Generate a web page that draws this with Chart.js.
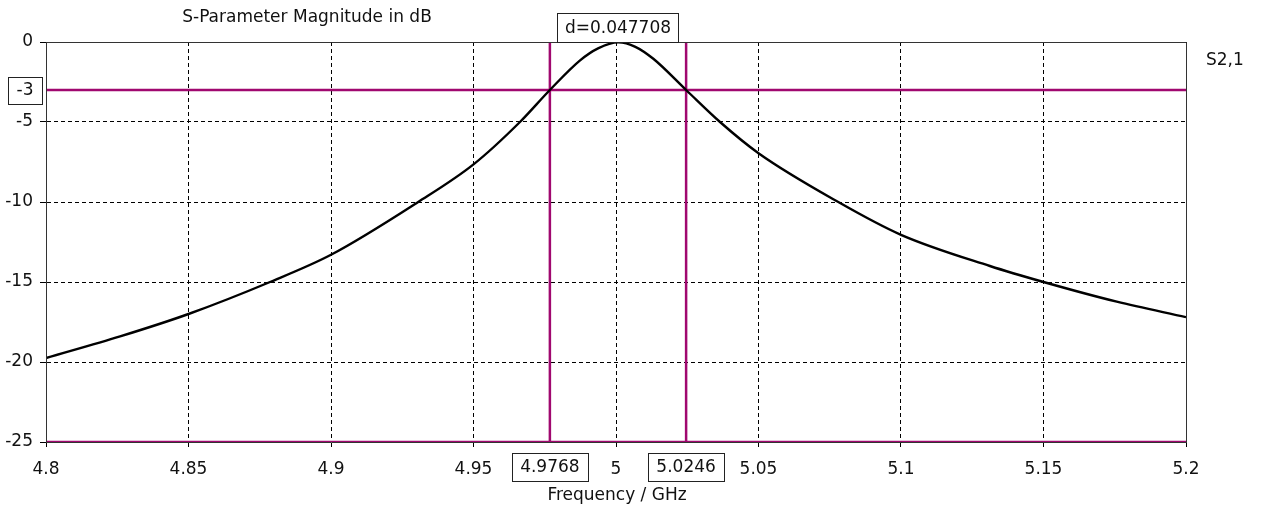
<!DOCTYPE html>
<html>
<head>
<meta charset="utf-8">
<script src="https://cdn.jsdelivr.net/npm/chart.js@4"></script>
<style>
  body { margin: 0; background: #fff; }
  #wrap { width: 1268px; height: 513px; }
</style>
</head>
<body>
<div id="wrap"><canvas id="myChart"></canvas></div>
<script>
// data
const freqGHz = [4.8, 4.826, 4.85, 4.8786, 4.9, 4.9306, 4.95, 4.9663, 4.9768, 4.9874, 4.9937, 5.0008,
                 5.0068, 5.0131, 5.0246, 5.0365, 5.05, 5.078, 5.1, 5.1312, 5.15, 5.1757, 5.2]
const s21dB = [-19.75, -18.4, -17.0, -15.0, -13.3, -10.0, -7.65, -5.0, -3.0, -1.15, -0.4, -0.02,
               -0.3, -1.05, -3.0, -5.0, -6.95, -10.0, -12.05, -14.0, -15.0, -16.23, -17.2]
const markerFreqs = [4.9768, 5.0246]
const markerLabels = ['4.9768', '5.0246']
const levelLine = -3
const floorLine = -25
const deltaLabel = 'd=0.047708'
const xRange = [4.8, 5.2]
const yRange = [-25, 0]

const magenta = '#a0086f'
const font = 'DejaVu Sans'
const fontSize = 17

const curve = freqGHz.map((f, i) => ({ x: f, y: s21dB[i] }))

const datasets = [{
    label: 'S2,1',
    data: curve,
    borderColor: '#000',
    borderWidth: 2.4,
    pointRadius: 0,
    cubicInterpolationMode: 'monotone',
    order: 0
}, {
    data: [{ x: xRange[0], y: levelLine }, { x: xRange[1], y: levelLine }],
    borderColor: magenta, borderWidth: 2.5, pointRadius: 0, order: 1
}, {
    data: [{ x: xRange[0], y: floorLine }, { x: xRange[1], y: floorLine }],
    borderColor: magenta, borderWidth: 2.5, pointRadius: 0, order: 1
}]
markerFreqs.forEach(f => {
    datasets.push({
        data: [{ x: f, y: yRange[0] }, { x: f, y: yRange[1] }],
        borderColor: magenta, borderWidth: 2.5, pointRadius: 0, order: 1
    })
})

function box(ctx, cx, cy, w, h, text) {
    ctx.fillStyle = '#fff'
    ctx.fillRect(cx - w / 2, cy - h / 2, w, h)
    ctx.strokeStyle = '#222'
    ctx.lineWidth = 1
    ctx.strokeRect(Math.round(cx - w / 2) + 0.5, Math.round(cy - h / 2) + 0.5, w, h)
    ctx.fillStyle = '#111'
    ctx.textAlign = 'center'
    ctx.textBaseline = 'middle'
    ctx.fillText(text, cx, cy + 1)
}

const annotations = {
    id: 'annotations',
    afterDraw(chart) {
        const ctx = chart.ctx
        const a = chart.chartArea
        const xs = chart.scales.x
        const ys = chart.scales.y
        ctx.save()
        // frame
        ctx.strokeStyle = '#333'
        ctx.lineWidth = 1
        ctx.beginPath()
        ctx.moveTo(a.left + 0.5, a.bottom)
        ctx.lineTo(a.left + 0.5, a.top + 0.5)
        ctx.lineTo(a.right + 0.5, a.top + 0.5)
        ctx.lineTo(a.right + 0.5, a.bottom)
        ctx.stroke()
        ctx.font = fontSize + 'px "' + font + '"'
        // marker boxes
        box(ctx, 25, ys.getPixelForValue(levelLine), 34, 27, String(levelLine))
        const px = markerFreqs.map(f => xs.getPixelForValue(f))
        box(ctx, (px[0] + px[1]) / 2, 27.5, 121, 29, deltaLabel)
        px.forEach((p, i) => box(ctx, p, 467, 76, 28, markerLabels[i]))
        // titles
        ctx.fillStyle = '#111'
        ctx.textAlign = 'center'
        ctx.textBaseline = 'middle'
        ctx.fillText('S-Parameter Magnitude in dB', 307, 18)
        ctx.fillText('Frequency / GHz', 617, 496)
        ctx.textAlign = 'left'
        ctx.fillText('S2,1', 1206, 61)
        ctx.restore()
    }
}

const config = {
    type: 'line',
    data: { datasets },
    options: {
        responsive: true,
        maintainAspectRatio: false,
        animation: false,
        layout: { padding: { top: 42, right: 82, left: 0, bottom: 0 } },
        plugins: { legend: { display: false }, tooltip: { enabled: false } },
        scales: {
            x: {
                type: 'linear',
                min: xRange[0],
                max: xRange[1],
                afterFit(scale) { scale.height = 71 },
                ticks: {
                    stepSize: 0.05,
                    padding: 12,
                    maxRotation: 0,
                    color: '#111',
                    font: { family: font, size: fontSize },
                    callback: v => String(Number(v.toFixed(2)))
                },
                grid: { color: '#000', lineWidth: 1, tickLength: 5 },
                border: { color: '#333', dash: [4, 3] }
            },
            y: {
                min: yRange[0],
                max: yRange[1],
                afterFit(scale) { scale.width = 46 },
                ticks: {
                    stepSize: 5,
                    padding: 7,
                    color: '#111',
                    font: { family: font, size: fontSize }
                },
                grid: { color: '#000', lineWidth: 1, tickLength: 6 },
                border: { color: '#333', dash: [4, 3] }
            }
        }
    },
    plugins: [annotations]
}

const myChart = new Chart(document.getElementById('myChart'), config)
</script>
</body>
</html>
